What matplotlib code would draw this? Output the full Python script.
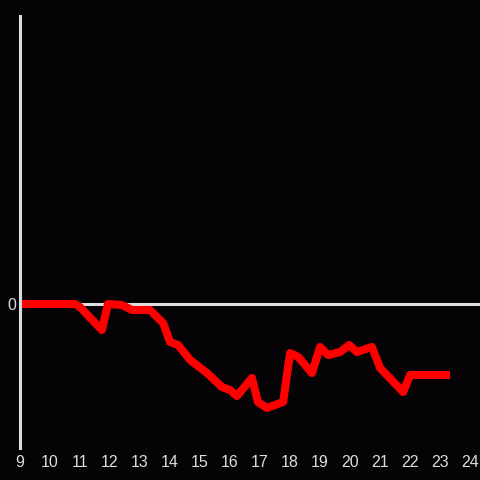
import matplotlib.pyplot as plt

# hours of the day and the change relative to the opening value
hours = [9.0, 10.83, 11.0, 11.73, 11.93, 12.4, 12.73, 13.33, 13.77, 14.0, 14.27,
         14.67, 15.23, 15.73, 16.0, 16.23, 16.73, 16.93, 17.23, 17.77, 18.0,
         18.27, 18.73, 19.0, 19.27, 19.67, 19.97, 20.23, 20.73, 21.0, 21.77,
         22.0, 23.33]
change = [0.0, 0.0, -0.03, -0.26, 0.0, -0.01, -0.06, -0.06, -0.19, -0.38, -0.41,
          -0.56, -0.69, -0.83, -0.86, -0.92, -0.74, -0.98, -1.04, -0.98, -0.49,
          -0.53, -0.69, -0.43, -0.51, -0.48, -0.41, -0.48, -0.43, -0.64, -0.88,
          -0.71, -0.71]

xticks = list(range(9, 25))

bg = "#050305"
fg = "#dddddd"

fig = plt.figure(figsize=(4.8, 4.8), dpi=100, facecolor=bg)
ax = fig.add_axes([20 / 480, 32 / 480, 460 / 480, 432 / 480])
ax.set_facecolor(bg)

ax.axhline(0, color=fg, lw=2.2, zorder=1)
ax.plot(hours, change, color="#ff0000", lw=5.8, solid_joinstyle="round",
        solid_capstyle="butt", zorder=2)

ax.set_xlim(9, 24.33)
ax.set_ylim(-1.44, 2.88)
ax.set_xticks(xticks)
ax.set_yticks([0])

for side in ["top", "right", "bottom"]:
    ax.spines[side].set_visible(False)
ax.spines["left"].set_color(fg)
ax.spines["left"].set_linewidth(2.2)

ax.tick_params(length=0, colors=fg, labelsize=11.5)
ax.tick_params(axis="x", pad=5)
ax.tick_params(axis="y", pad=3)
for lbl in ax.get_xticklabels() + ax.get_yticklabels():
    lbl.set_family("Liberation Sans")

fig.savefig("out.png", dpi=100, facecolor=bg)
